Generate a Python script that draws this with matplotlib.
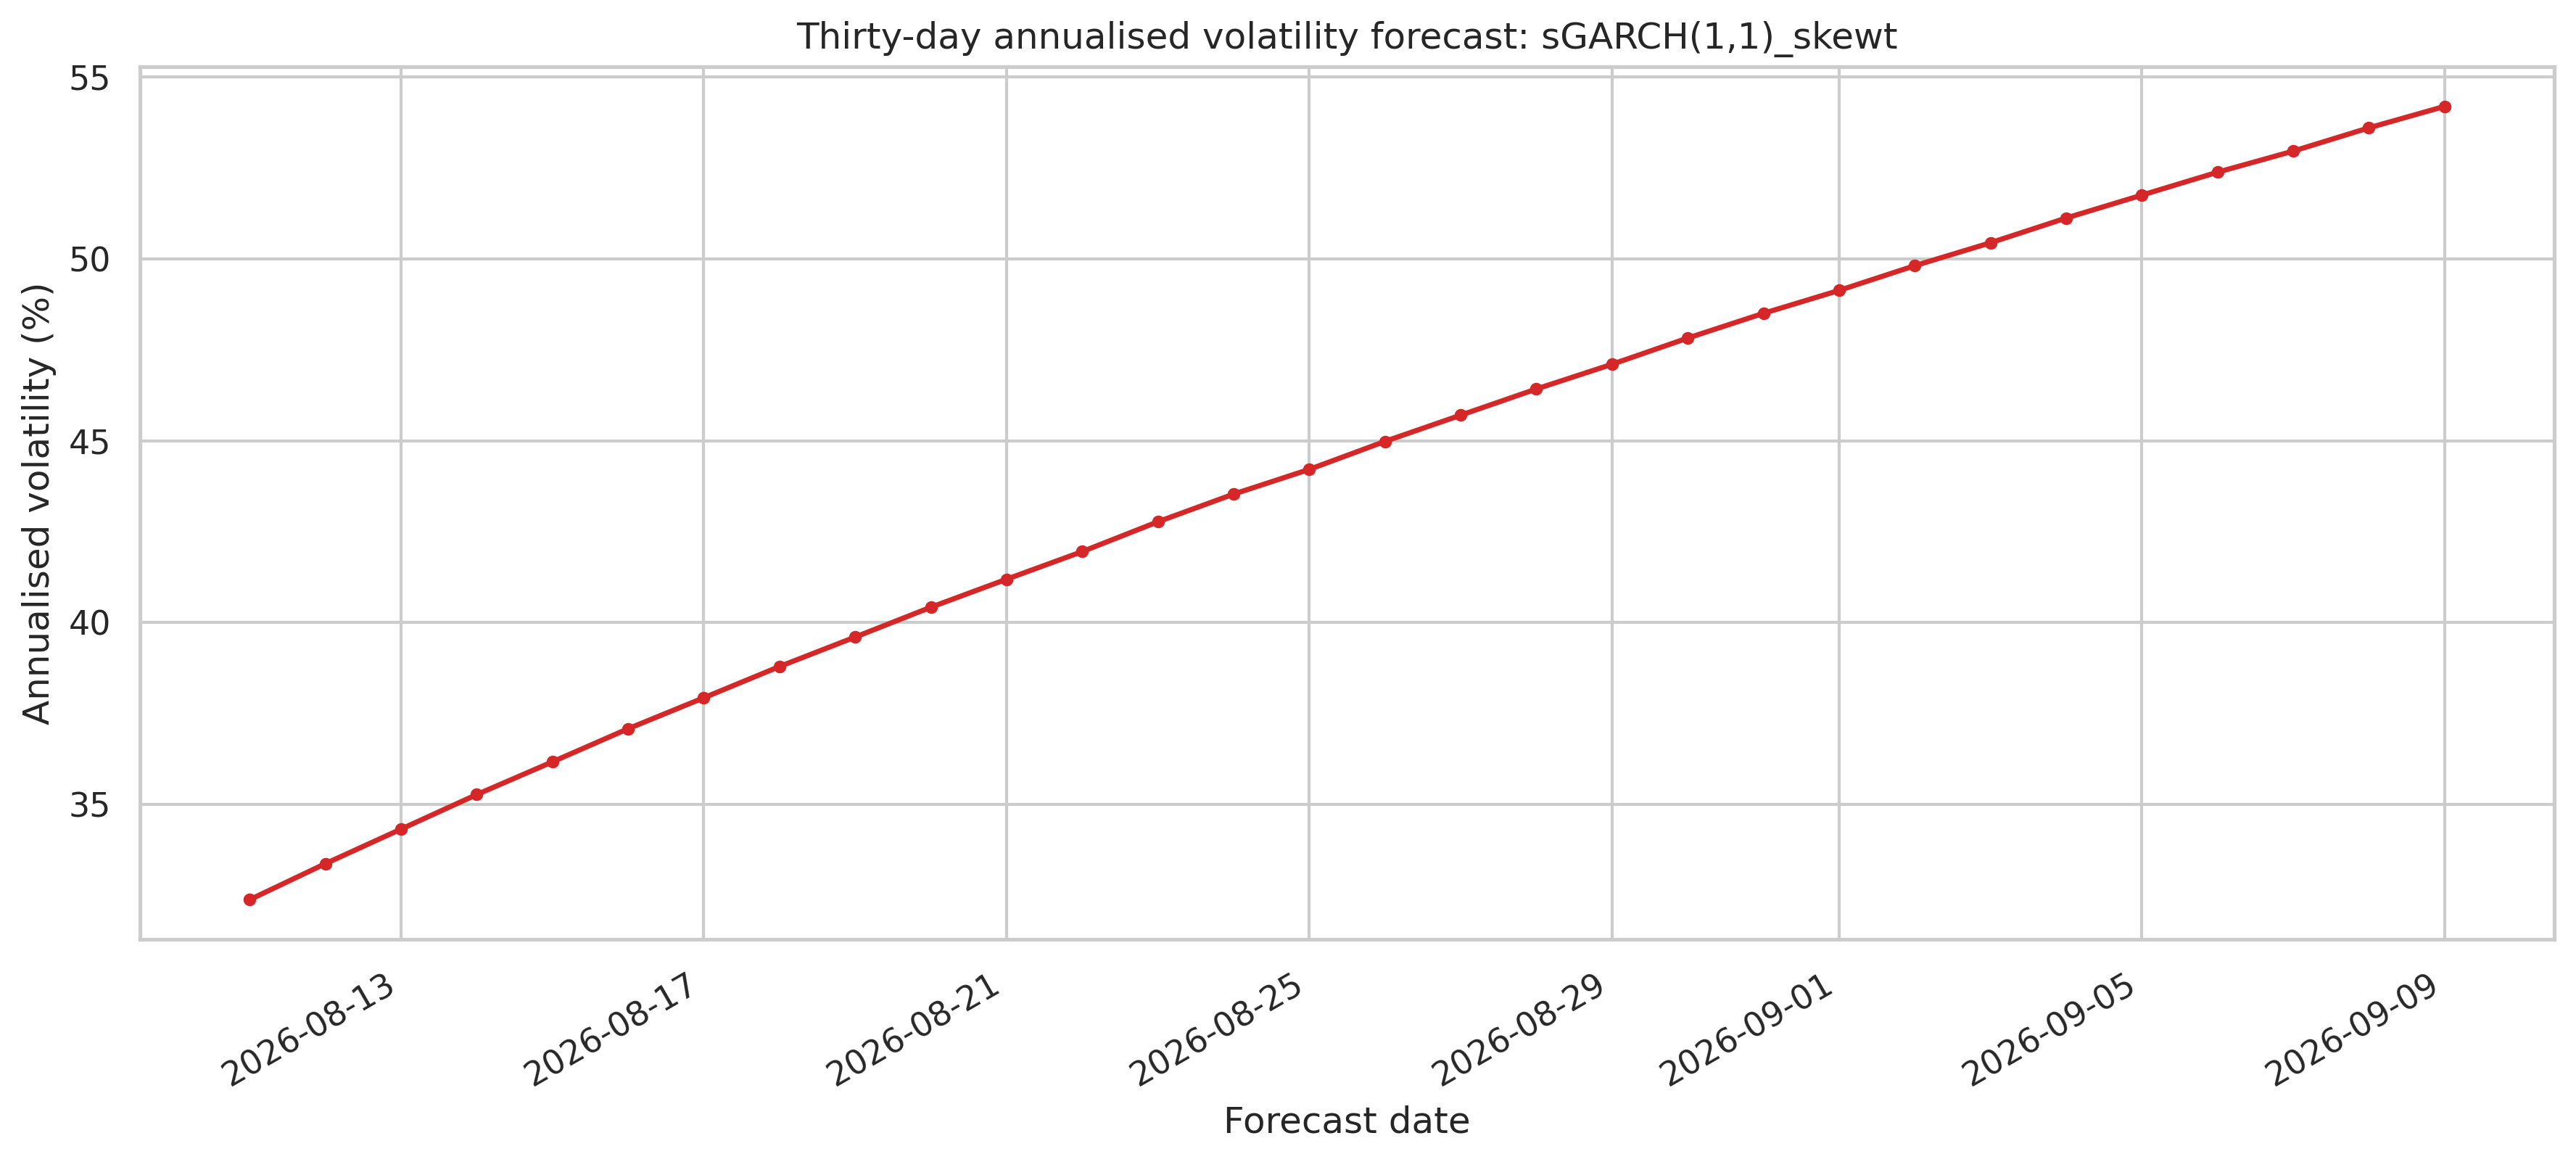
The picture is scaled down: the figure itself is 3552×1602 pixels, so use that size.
import matplotlib
matplotlib.use("Agg")
import matplotlib.pyplot as plt
import seaborn as sns
import pandas as pd

# fechas del pronóstico y volatilidad anualizada
fechas = pd.date_range("2026-08-11", "2026-09-09", freq="D")
vol = [32.38, 33.37, 34.32, 35.27, 36.17, 37.08, 37.93, 38.79, 39.60, 40.42,
       41.19, 41.95, 42.77, 43.53, 44.21, 44.98, 45.70, 46.42, 47.10, 47.82,
       48.50, 49.13, 49.81, 50.44, 51.12, 51.75, 52.38, 52.96, 53.60, 54.19]

sns.set_theme(style="whitegrid")
plt.rcParams["font.family"] = ["DejaVu Sans"]

fig, ax = plt.subplots(figsize=(11.84, 5.34), dpi=300)
ax.plot(fechas, vol, marker="o", markersize=3.2, linewidth=1.7, color="#d62728")
ax.set_title("Thirty-day annualised volatility forecast: sGARCH(1,1)_skewt")
ax.set_xlabel("Forecast date")
ax.set_ylabel("Annualised volatility (%)")
fig.autofmt_xdate()
fig.subplots_adjust(left=0.0543, right=0.9916, top=0.9426, bottom=0.1916)
fig.savefig("out.png", dpi=300)
